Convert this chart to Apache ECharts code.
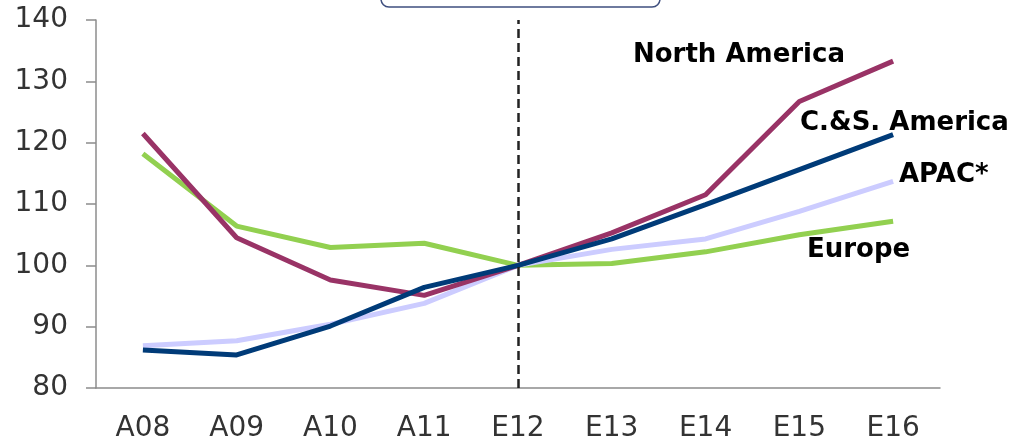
<!DOCTYPE html>
<html><head><meta charset="utf-8">
<script src="https://cdn.jsdelivr.net/npm/echarts@6/dist/echarts.min.js"></script>
<style>html,body{margin:0;padding:0;background:#fff}#c{width:1019px;height:443px}</style>
</head><body><div id="c"></div>
<script>
const categories = ['A08','A09','A10','A11','E12','E13','E14','E15','E16'];
const northAmerica = [121.5,104.5,97.6,95.1,100,105.3,111.5,126.7,133.3];
const csAmerica = [86.2,85.4,90.1,96.4,100,104.3,109.9,115.6,121.3];
const apac = [86.9,87.7,90.4,93.8,100,102.6,104.3,108.8,113.7];
const europe = [118.2,106.4,102.9,103.6,100,100.3,102.2,105.0,107.2];
const yTicks = [80,90,100,110,120,130,140];
const dividerCategory = 'E12';

const chart = echarts.init(document.getElementById('c'));
const lineStyle = (c) => ({color: c, width: 5});
chart.setOption({
  animation: false,
  grid: {left: 96, right: 79, top: 20, bottom: 54},
  xAxis: {
    type: 'category', data: categories, boundaryGap: true,
    axisLine: {lineStyle: {color: '#8c8c8c', width: 1.5}},
    axisTick: {length: 9, lineStyle: {color: '#8c8c8c', width: 1.5}},
    axisLabel: {color: '#333', fontFamily: 'DejaVu Sans', fontSize: 28, margin: 27}
  },
  yAxis: {
    type: 'value', min: yTicks[0], max: yTicks[yTicks.length-1], interval: 10,
    axisLine: {show: true, lineStyle: {color: '#8c8c8c', width: 1.5}},
    axisTick: {show: true, length: 10, lineStyle: {color: '#8c8c8c', width: 1.5}},
    splitLine: {show: false},
    axisLabel: {color: '#333', fontFamily: 'DejaVu Sans', fontSize: 28, margin: 28}
  },
  series: [
    {name: 'Europe', type: 'line', data: europe, symbol: 'none', lineStyle: lineStyle('#92D050'),
     markLine: {silent: true, symbol: 'none', label: {show: false},
       lineStyle: {color: '#222', type: [9, 5], width: 2.5},
       data: [{xAxis: dividerCategory}]}},
    {name: 'APAC*', type: 'line', data: apac, symbol: 'none', lineStyle: lineStyle('#CCCCFF')},
    {name: 'North America', type: 'line', data: northAmerica, symbol: 'none', lineStyle: lineStyle('#993366')},
    {name: 'C.&S. America', type: 'line', data: csAmerica, symbol: 'none', lineStyle: lineStyle('#003B78')}
  ],
  graphic: [
    {type: 'rect', shape: {x: 381, y: -20, width: 279, height: 27, r: 8},
     style: {fill: '#fff', stroke: '#3f4f7f', lineWidth: 1.5}},
    {type: 'text', left: 633, top: 42, style: {text: 'North America', font: 'bold 26px "DejaVu Sans"', fill: '#000'}},
    {type: 'text', left: 800, top: 110, style: {text: 'C.&S. America', font: 'bold 26px "DejaVu Sans"', fill: '#000'}},
    {type: 'text', left: 899, top: 162, style: {text: 'APAC*', font: 'bold 26px "DejaVu Sans"', fill: '#000'}},
    {type: 'text', left: 807, top: 237, style: {text: 'Europe', font: 'bold 26px "DejaVu Sans"', fill: '#000'}}
  ]
});
</script></body></html>
